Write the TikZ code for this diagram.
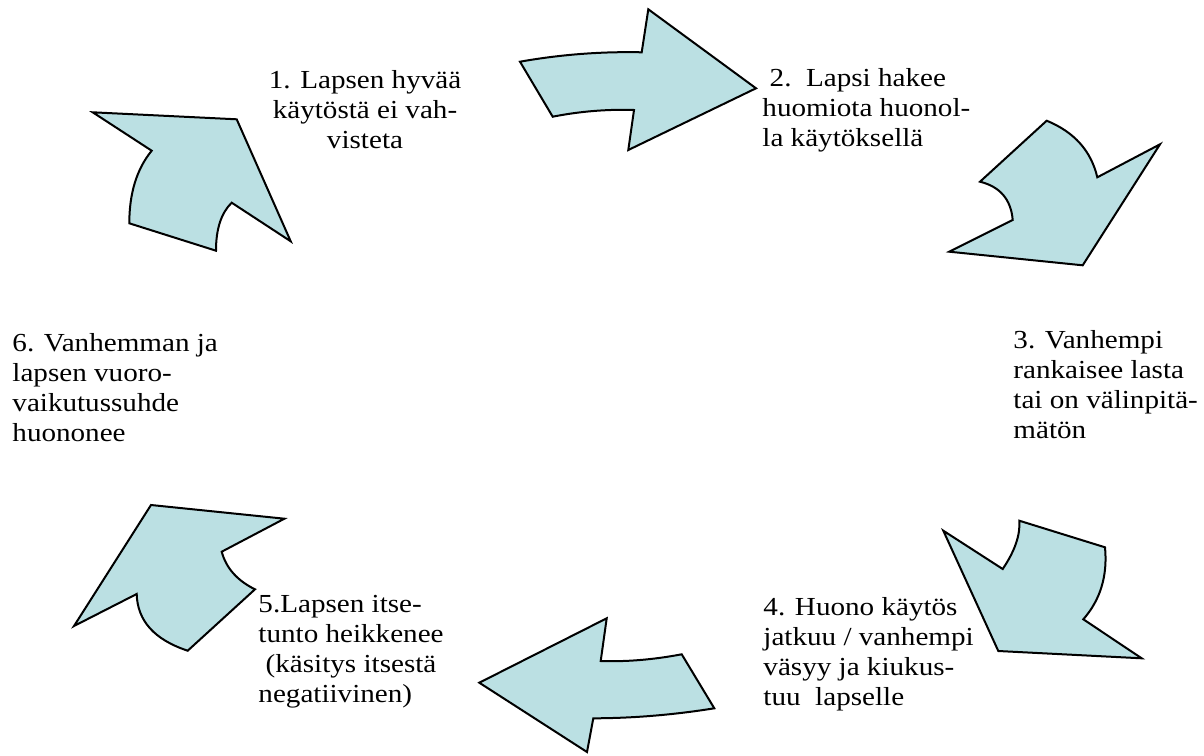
\documentclass[tikz,border=0pt]{standalone}
\usepackage{fontspec}
\setmainfont{Liberation Serif}
\definecolor{arrowfill}{RGB}{187,224,227}
\begin{document}
\begin{tikzpicture}[x=0.5pt,y=-0.5pt,
    loop arrow/.style={fill=arrowfill,draw=black,line width=1pt,line join=miter},
    text node/.style={inner sep=0pt,align=left,font=\fontsize{13}{15}\selectfont,xscale=1.12,transform shape}]
\useasboundingbox (0,0) rectangle (1204,755);
% arrows of the cycle
\filldraw[loop arrow] (92.7,112.3) -- (236.7,119.3) -- (290.7,241.3) -- (231.7,202.7)
    .. controls (221.2,212.9) and (216,228.9) .. (216,250.7) -- (129.3,223.3)
    .. controls (129.3,193.1) and (136.8,168.9) .. (151.7,150.7) -- cycle;
\filldraw[loop arrow] (520,61.7) .. controls (560,54.6) and (600.6,51.4) .. (641.7,52.3)
    -- (648.3,9.3) -- (756,88.3) -- (628.3,150) -- (634,110)
    .. controls (606.7,109.1) and (579.6,111.4) .. (552.7,116.7) -- cycle;
\filldraw[loop arrow] (1046.7,120.7) .. controls (1074.2,132) and (1091.1,150.8) .. (1097.3,177.3)
    -- (1160,144.3) -- (1082.7,265.3) -- (949.3,251.7) -- (1012.7,220)
    .. controls (1011,199.5) and (1000.1,186.7) .. (980,181.7) -- cycle;
\filldraw[loop arrow] (943.3,530.7) -- (1002.7,569)
    .. controls (1014.9,550.9) and (1020.4,534.8) .. (1019.3,520.7) -- (1105,547.3)
    .. controls (1107.7,575.8) and (1100.4,599.8) .. (1083.3,619.3)
    -- (1141.7,658.3) -- (998.3,651) -- cycle;
\filldraw[loop arrow] (479.3,682.7) -- (606.7,618.3) -- (600.7,661)
    .. controls (626.1,661.9) and (653.1,659.7) .. (681.7,654.3) -- (714.3,708.3)
    .. controls (673.8,714.8) and (633.5,718.2) .. (593.3,718.3) -- (587,752) -- cycle;
\filldraw[loop arrow] (151,505) -- (284.4,518.7) -- (221.7,551.7)
    .. controls (226.1,568) and (237.2,580.6) .. (255,589.3) -- (187.7,650.7)
    .. controls (154.4,639.7) and (137.4,620.8) .. (136.7,594) -- (74,626) -- cycle;
% texts
\node[text node,align=center,anchor=north] (1) at (365,70) {1. Lapsen hyvää\\käytöstä ei vah-\\visteta};
\node[text node,anchor=north west] (2) at (762,68) {\hspace*{0.25em}2.\ \ Lapsi hakee\\huomiota huonol-\\la käytöksellä};
\node[text node,anchor=north west] (3) at (1013,330) {3. Vanhempi\\rankaisee lasta\\tai on välinpitä-\\mätön};
\node[text node,anchor=north west] (6) at (12,333) {6. Vanhemman ja\\lapsen vuoro-\\vaikutussuhde\\huononee};
\begin{scope}
\clip (240,560) rectangle (1000,716);
\node[text node,anchor=north west] (4) at (763,597) {4. Huono käytös\\jatkuu / vanhempi\\väsyy ja kiukus-\\tuu\ \ lapselle};
\node[text node,anchor=north west] (5) at (258,595) {5.Lapsen itse-\\tunto heikkenee\\\hspace*{0.25em}(käsitys itsestä\\negatiivinen)};
\end{scope}
\end{tikzpicture}
\end{document}
